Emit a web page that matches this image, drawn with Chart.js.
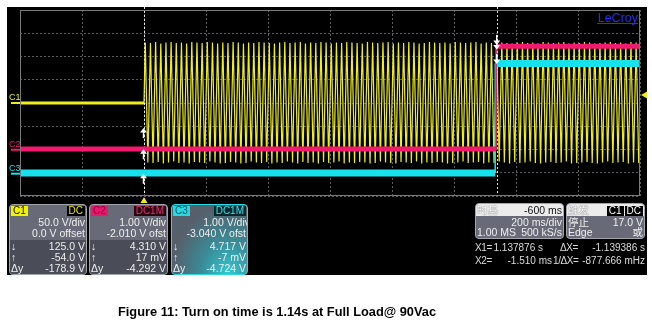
<!DOCTYPE html>
<html>
<head>
<meta charset="utf-8">
<script src="https://cdn.jsdelivr.net/npm/chart.js@4.4.1/dist/chart.umd.min.js"></script>
<style>
  body { margin: 0; background: #fff; }
  #wrap { position: relative; width: 652px; height: 326px; overflow: hidden;
          font-family: "Liberation Sans", "Noto Sans CJK SC", Arial, sans-serif; }
  #scope { position: absolute; left: 0; top: 0; }
  .box { position: absolute; border: 1px solid #a2a4ac; border-radius: 4px; overflow: hidden;
         background: #686b77; color: #eeeeee; font-size: 10.5px; }
  .box .lo { position: absolute; left: 0; right: 0; top: 35px; bottom: 0; background: #4a4d58; }
  .row { position: absolute; left: 1px; right: 1px; height: 11px; line-height: 11px;
         display: flex; justify-content: space-between; white-space: nowrap; }
  .row.r { justify-content: flex-end; }
  .tag { display: inline-block; padding: 0 2px; height: 10px; line-height: 10px; font-size: 10px; margin-top: 1px; }
  .hdr { position: absolute; left: 0; right: 0; top: 0; height: 12px; line-height: 12px; background: #ececec;
         display: flex; justify-content: space-between; white-space: nowrap; padding: 0 1px; }
  .hl { color: #fff; text-shadow: 0 0 1px #222; }
  .hv { color: #111; }
  .cur { position: absolute; color: #dcdcdc; font-size: 10px; line-height: 12px; white-space: nowrap; }
  .cur.k { letter-spacing: -0.4px; }
  #caption { position: absolute; left: 118px; top: 305px; font-weight: bold; font-size: 12.8px; line-height: 14px;
             color: #000; white-space: nowrap; }
</style>
</head>
<body>
<div id="wrap">
  <canvas id="scope" width="652" height="326"></canvas>

  <!-- C1 -->
  <div class="box" style="left:9px;top:204px;width:76px;height:69px">
    <div class="lo"></div>
    <div class="row"><span class="tag" style="background:#f2f200;color:#111">C1</span><span class="tag" style="background:#000;color:#e6e600">DC</span></div>
    <div class="row r" style="top:12px"><span>50.0 V/div</span></div>
    <div class="row r" style="top:23px"><span>0.0 V offset</span></div>
    <div class="row" style="top:36px"><span>↓</span><span>125.0 V</span></div>
    <div class="row" style="top:47px"><span>↑</span><span>-54.0 V</span></div>
    <div class="row" style="top:58px"><span>Δy</span><span>-178.9 V</span></div>
  </div>

  <!-- C2 -->
  <div class="box" style="left:89px;top:204px;width:77px;height:69px">
    <div class="lo"></div>
    <div class="row"><span class="tag" style="background:#e8186e;color:#8a0036">C2</span><span class="tag" style="background:#2a0612;color:#e8306e">DC1M</span></div>
    <div class="row r" style="top:12px"><span>1.00 V/div</span></div>
    <div class="row r" style="top:23px"><span>-2.010 V ofst</span></div>
    <div class="row" style="top:36px"><span>↓</span><span>4.310 V</span></div>
    <div class="row" style="top:47px"><span>↑</span><span>17 mV</span></div>
    <div class="row" style="top:58px"><span>Δy</span><span>-4.292 V</span></div>
  </div>

  <!-- C3 -->
  <div class="box" style="left:171px;top:204px;width:75px;height:69px;border-color:#2cd8e4;
       background:radial-gradient(ellipse at 75% 100%, #33c9d2 0%, #3a8a96 35%, #56606c 70%)">
    <div class="row"><span class="tag" style="background:#2ad6e0;color:#0d5a66">C3</span><span class="tag" style="background:#08282e;color:#36e2ea">DC1M</span></div>
    <div class="row r" style="top:12px;right:-3px"><span>1.00 V/div</span></div>
    <div class="row r" style="top:23px"><span>-3.040 V ofst</span></div>
    <div class="row" style="top:36px"><span>↓</span><span>4.717 V</span></div>
    <div class="row" style="top:47px"><span>↑</span><span>-7 mV</span></div>
    <div class="row" style="top:58px"><span>Δy</span><span>-4.724 V</span></div>
  </div>

  <!-- timebase -->
  <div class="box" style="left:475px;top:203px;width:87px;height:34px">
    <div class="hdr"><span class="hl">时基</span><span class="hv">-600 ms</span></div>
    <div class="row r" style="top:13px"><span>200 ms/div</span></div>
    <div class="row" style="top:23px"><span>1.00 MS</span><span>500 kS/s</span></div>
  </div>

  <!-- trigger -->
  <div class="box" style="left:566px;top:203px;width:77px;height:34px">
    <div class="hdr"><span class="hl">触发</span><span><span class="tag" style="background:#000;color:#fff;margin:0">C1</span><span class="tag" style="background:#000;color:#fff;margin:0 0 0 1px">DC</span></span></div>
    <div class="row" style="top:13px"><span>停止</span><span>17.0 V</span></div>
    <div class="row" style="top:23px"><span>Edge</span><span>或</span></div>
  </div>

  <!-- cursor readouts -->
  <span class="cur k" style="left:475px;top:242px">X1=</span>
  <span class="cur" style="right:109px;top:242px">1.137876 s</span>
  <span class="cur k" style="left:560px;top:242px">ΔX=</span>
  <span class="cur" style="right:7px;top:242px">-1.139386 s</span>
  <span class="cur k" style="left:475px;top:255px">X2=</span>
  <span class="cur" style="right:100px;top:255px">-1.510 ms</span>
  <span class="cur k" style="left:553px;top:255px">1/ΔX=</span>
  <span class="cur" style="right:7px;top:255px">-877.666 mHz</span>

  <div id="caption">Figure 11: Turn on time is 1.14s at Full Load@ 90Vac</div>
</div>

<script>
// time axis (ms), 200 ms/div, trigger at 0
const timeMinMs = -400;
const timeMaxMs = 1600;
const msPerDiv = 200;

// channel setup: C1, C2, C3
const chNames = ['C1', 'C2', 'C3'];
const chVoltsPerDiv = [50, 1, 1];
const chOffsets = [0, -2.01, -3.04];
const chColors = ['#eeee1e', '#f21a6e', '#16e2ee'];

// C1: AC line (90 Vac, ~60 Hz), flat before the trigger, then peaks
const acFreqHz = 60;
const c1FlatTimesMs = [-400, 0];
const c1FlatVolts = [0, 0];
const c1High = [
  130,129,131,128,130,131,129,130,128,131,130,129,131,130,128,130,
  129,131,130,128,130,129,131,130,129,128,130,131,129,130,131,128,
  130,129,131,130,128,130,129,131,130,129,128,131,130,129,130,131,
  128,130,129,131,130,128,129,131,130,129,130,128,131,130,129,130,
  131,128,130,129,131,130,129,128,130,131,129,130,128,131,130,129,
  130,131,128,130,129,131,130,128,129,130,131,129,130,128,131,130
];
const c1Low = [
  -128,-129,-127,-130,-128,-126,-129,-128,-130,-127,-128,-129,-126,-128,-130,-129,
  -127,-128,-130,-129,-126,-128,-129,-127,-130,-128,-129,-126,-128,-130,-127,-129,
  -128,-130,-127,-129,-128,-126,-130,-128,-129,-127,-128,-130,-129,-126,-128,-129,
  -130,-127,-128,-129,-126,-130,-128,-129,-127,-128,-130,-129,-128,-126,-129,-128,
  -127,-130,-128,-129,-126,-128,-130,-127,-129,-128,-126,-129,-130,-128,-127,-129,
  -128,-126,-130,-129,-128,-127,-129,-130,-128,-126,-129,-128,-127,-130,-128,-129
];

// C2 / C3: output rails rising at ~1.135 s
const c2TimesMs = [-400, 1136, 1136, 1600];
const c2Volts = [0.03, 0.03, 4.45, 4.45];
const c3TimesMs = [-400, 1133, 1133, 1600];
const c3Volts = [0.03, 0.03, 4.74, 4.74];

// cursors and trigger
const cursorTimesMs = [1137.876, -1.51];       // X1, X2
const cursorX1Volts = [125, 4.31, 4.717];       // ↓ readings
const cursorX2Volts = [-54, 0.017, -0.007];     // ↑ readings
const trigLevelV = 17;

const toDiv = (v, ch) => (v + chOffsets[ch]) / chVoltsPerDiv[ch];

function buildC1() {
  const pts = c1FlatTimesMs.map((t, i) => ({ x: t, y: toDiv(c1FlatVolts[i], 0) }));
  const halfMs = 1000 / acFreqHz / 2;
  for (let i = 0; i < c1High.length; i++) {
    pts.push({ x: (2 * i + 0.5) * halfMs, y: toDiv(c1High[i], 0) });
    pts.push({ x: (2 * i + 1.5) * halfMs, y: toDiv(c1Low[i], 0) });
  }
  return pts;
}
const buildRail = (times, volts, ch) => times.map((t, i) => ({ x: t, y: toDiv(volts[i], ch) }));

const flatWidth = (flat, edge) => ctx => ctx.p0.parsed.y === ctx.p1.parsed.y ? flat : edge;

const scopeDeco = {
  id: 'scopeDeco',
  beforeDraw(chart) {
    const c = chart.ctx;
    c.save();
    c.fillStyle = '#fff';
    c.fillRect(0, 0, chart.width, chart.height);
    c.fillStyle = '#000';
    c.fillRect(7, 7, 640, 268);
    c.restore();
  },
  beforeDatasetsDraw(chart) {
    const c = chart.ctx, a = chart.chartArea, xs = chart.scales.x;
    c.save();
    c.strokeStyle = '#e8e8e8';
    c.lineWidth = 1;
    c.setLineDash([2, 2]);
    cursorTimesMs.forEach(t => {
      const x = Math.round(xs.getPixelForValue(t)) + 0.5;
      c.beginPath(); c.moveTo(x, a.top - 3); c.lineTo(x, a.bottom); c.stroke();
    });
    c.restore();
  },
  afterDatasetsDraw(chart) {
    const c = chart.ctx, a = chart.chartArea, xs = chart.scales.x, ys = chart.scales.y;
    c.save();
    // plot frame
    c.strokeStyle = '#7a7a7a';
    c.lineWidth = 1;
    c.strokeRect(a.left + 0.5, a.top + 0.5, a.right - a.left - 1, a.bottom - a.top - 1);

    // cursor arrows
    const arrow = (x, y, dir) => {
      c.fillStyle = '#fff';
      c.strokeStyle = '#fff';
      c.lineWidth = 1.5;
      c.beginPath(); c.moveTo(x, y); c.lineTo(x - 3.5, y - dir * 4.5); c.lineTo(x + 3.5, y - dir * 4.5); c.closePath(); c.fill();
      c.beginPath(); c.moveTo(x, y - dir * 4); c.lineTo(x, y - dir * 10); c.stroke();
    };
    const x1 = xs.getPixelForValue(cursorTimesMs[0]);
    const x2 = xs.getPixelForValue(cursorTimesMs[1]);
    cursorX1Volts.forEach((v, ch) => arrow(x1, ys.getPixelForValue(toDiv(v, ch)), 1));
    cursorX2Volts.forEach((v, ch) => arrow(x2, ys.getPixelForValue(toDiv(v, ch)), -1));

    // trigger position (bottom) and trigger level (right)
    const xt = xs.getPixelForValue(0);
    c.fillStyle = chColors[0];
    c.beginPath(); c.moveTo(xt, a.bottom + 1); c.lineTo(xt - 3.5, a.bottom + 7); c.lineTo(xt + 3.5, a.bottom + 7); c.closePath(); c.fill();
    const yl = ys.getPixelForValue(toDiv(trigLevelV, 0));
    c.beginPath(); c.moveTo(a.right + 1, yl); c.lineTo(a.right + 7, yl - 3.5); c.lineTo(a.right + 7, yl + 3.5); c.closePath(); c.fill();

    // channel ground markers + names
    c.font = '9px "Liberation Sans", Arial, sans-serif';
    c.textBaseline = 'alphabetic';
    chNames.forEach((name, ch) => {
      const y0 = ys.getPixelForValue(toDiv(0, ch));
      c.fillStyle = chColors[ch];
      c.fillText(name, 9, y0 - 3);
      c.fillRect(11, y0 - 1, a.left - 11, 2);
    });

    // logo
    c.font = '12.5px "Liberation Sans", Arial, sans-serif';
    c.fillStyle = '#2a2ee6';
    c.textAlign = 'right';
    c.fillText('LeCroy', 638, 22);
    c.fillRect(597, 23, 41, 1);
    c.restore();
  }
};

new Chart(document.getElementById('scope'), {
  type: 'line',
  data: {
    datasets: [
      {
        label: 'C2',
        data: buildRail(c2TimesMs, c2Volts, 1),
        borderColor: chColors[1],
        borderWidth: 5,
        segment: { borderWidth: flatWidth(5, 1.5) },
        pointRadius: 0
      },
      {
        label: 'C3',
        data: buildRail(c3TimesMs, c3Volts, 2),
        borderColor: chColors[2],
        borderWidth: 7,
        segment: { borderWidth: flatWidth(7, 1.5) },
        pointRadius: 0
      },
      {
        label: 'C1',
        data: buildC1(),
        borderColor: chColors[0],
        borderWidth: 1.2,
        segment: { borderWidth: flatWidth(3, 1.2) },
        pointRadius: 0
      }
    ]
  },
  options: {
    responsive: false,
    animation: false,
    devicePixelRatio: 1,
    layout: { padding: { left: 20, top: 10, right: 12, bottom: 130 } },
    plugins: { legend: { display: false }, tooltip: { enabled: false } },
    elements: { line: { tension: 0 } },
    scales: {
      x: {
        type: 'linear',
        min: timeMinMs,
        max: timeMaxMs,
        ticks: { display: false, stepSize: msPerDiv },
        grid: { color: '#5c5c5c', drawTicks: false },
        border: { display: false, dash: [2, 2] }
      },
      y: {
        type: 'linear',
        min: -4,
        max: 4,
        ticks: { display: false, stepSize: 1 },
        grid: { color: '#5c5c5c', drawTicks: false },
        border: { display: false, dash: [2, 2] }
      }
    }
  },
  plugins: [scopeDeco]
});
</script>
</body>
</html>
